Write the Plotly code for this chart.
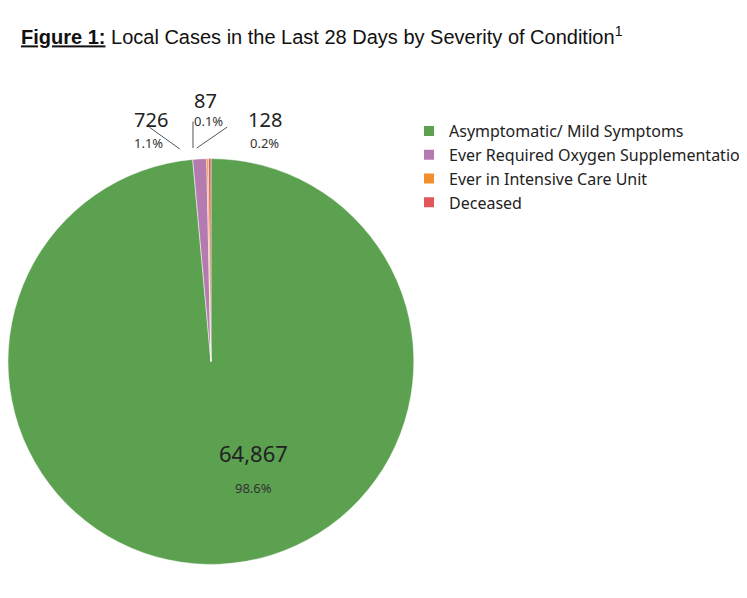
import plotly.graph_objects as go

labels = ["Asymptomatic/ Mild Symptoms", "Ever Required Oxygen Supplementation",
          "Ever in Intensive Care Unit", "Deceased"]
values = [64867, 726, 87, 128]
pct_text = ["98.6%", "1.1%", "0.1%", "0.2%"]
colors = ["#5ba150", "#b57bb0", "#f28e2b", "#e15759"]

W, H = 747, 598
def px(x): return x / W
def py(y): return 1 - y / H

fig = go.Figure(go.Pie(
    labels=labels, values=values, sort=False, direction="clockwise", rotation=0,
    marker=dict(colors=colors, line=dict(color="white", width=0.5)),
    textinfo="none", hoverinfo="label+value+percent",
    domain=dict(x=[0, 430 / W], y=[py(568), py(139)]),
))

ann = []
pos = [(260, 462, 491, None, None),
       (131, 96, 124, (150, 118), (182, 141)),
       (195, 77, 102, (196, 112), (196, 140)),
       (272, 96, 124, (232, 118), (200, 140))]
for i, (x, yv, yp, a, b) in enumerate(pos):
    ann.append(dict(x=px(x), y=py(yv), xref="paper", yref="paper", text=f"{values[i]:,}",
                    showarrow=False, font=dict(size=22 if i == 0 else 20, color="#222", family="Noto Sans")))
    ann.append(dict(x=px(x), y=py(yp), xref="paper", yref="paper", text=pct_text[i],
                    showarrow=False, font=dict(size=13, color="#333", family="Noto Sans")))
    if a:
        ann.append(dict(x=px(b[0]), y=py(b[1]), ax=a[0] - b[0], ay=a[1] - b[1], axref="pixel", ayref="pixel",
                        xref="paper", yref="paper", text="", showarrow=True, arrowhead=0,
                        arrowwidth=1, arrowcolor="#555"))
ann.append(dict(x=px(12), y=py(28), xref="paper", yref="paper", xanchor="left", yanchor="middle",
                showarrow=False, font=dict(size=20, family="Liberation Sans", color="#111"),
                text="<b><u>Figure 1:</u></b> Local Cases in the Last 28 Days by Severity of Condition<sup>1</sup>"))

fig.update_layout(
    width=W, height=H, margin=dict(l=0, r=0, t=0, b=0), paper_bgcolor="white",
    annotations=ann, showlegend=True,
    legend=dict(x=px(425), y=py(106), xanchor="left", yanchor="top",
                font=dict(size=16, family="Noto Sans", color="#222"), tracegroupgap=0,
                itemsizing="constant"),
)
fig.write_html("out.html")
